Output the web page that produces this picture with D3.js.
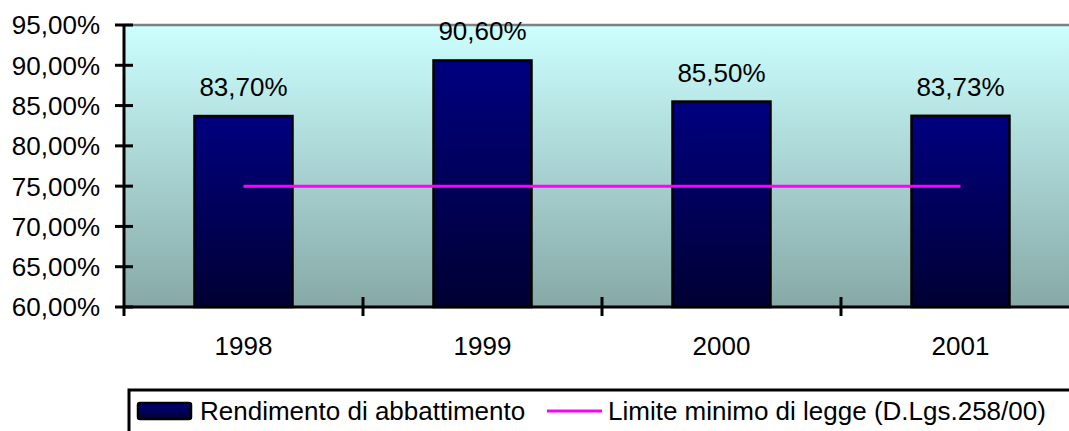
<!DOCTYPE html>
<html>
<head>
<meta charset="utf-8">
<script src="https://cdn.jsdelivr.net/npm/d3@7"></script>
<style>
  html, body { margin: 0; padding: 0; background: #fff; }
  svg text { font-family: "Liberation Sans", Arial, sans-serif; fill: #000; }
</style>
</head>
<body>
<div id="chart"></div>
<script>
// Chart data
const years = ['1998', '1999', '2000', '2001'];
const rendimento = [0.8370, 0.9060, 0.8550, 0.8373];
const limite = [0.75, 0.75, 0.75, 0.75];
const yTicks = [0.60, 0.65, 0.70, 0.75, 0.80, 0.85, 0.90, 0.95];
const legendLabels = ['Rendimento di abbattimento', 'Limite minimo di legge (D.Lgs.258/00)'];

const width = 1069, height = 431;
const plot = { left: 124, right: 1080, top: 25, bottom: 307 };
const fontSize = 26;

const it = d3.formatLocale({ decimal: ',', thousands: '.', grouping: [3], currency: ['€', ''] });
const pct = it.format('.2%');

const svg = d3.select('#chart')
    .append('svg')
    .attr('width', width)
    .attr('height', height);

const defs = svg.append('defs');

const bgGrad = defs.append('linearGradient')
    .attr('id', 'bgGrad')
    .attr('x1', 0).attr('y1', 0).attr('x2', 0).attr('y2', 1);
bgGrad.append('stop').attr('offset', '0%').attr('stop-color', '#ccffff');
bgGrad.append('stop').attr('offset', '100%').attr('stop-color', '#86a9a7');

const barGrad = defs.append('linearGradient')
    .attr('id', 'barGrad')
    .attr('x1', 0).attr('y1', 0).attr('x2', 0).attr('y2', 1);
barGrad.append('stop').attr('offset', '0%').attr('stop-color', '#000080');
barGrad.append('stop').attr('offset', '100%').attr('stop-color', '#000033');

// Scales
const x = d3.scaleBand()
    .domain(years)
    .range([plot.left, plot.right])
    .padding(0);

const y = d3.scaleLinear()
    .domain([0.60, 0.95])
    .range([plot.bottom, plot.top]);

const barW = x.bandwidth() * 0.41;

// Plot background
svg.append('rect')
    .attr('x', plot.left)
    .attr('y', plot.top)
    .attr('width', plot.right - plot.left)
    .attr('height', plot.bottom - plot.top)
    .attr('fill', 'url(#bgGrad)');

// Top border (gray)
svg.append('line')
    .attr('x1', plot.left).attr('x2', plot.right)
    .attr('y1', plot.top).attr('y2', plot.top)
    .attr('stroke', '#808080')
    .attr('stroke-width', 2.5);

// Bars
svg.append('g')
    .selectAll('rect')
    .data(rendimento)
    .enter()
    .append('rect')
    .attr('x', (d, i) => x(years[i]) + (x.bandwidth() - barW) / 2)
    .attr('y', d => y(d))
    .attr('width', barW)
    .attr('height', d => y(0.60) - y(d))
    .attr('fill', 'url(#barGrad)')
    .attr('stroke', '#000')
    .attr('stroke-width', 2.5);

// Value labels
svg.append('g')
    .selectAll('text')
    .data(rendimento)
    .enter()
    .append('text')
    .attr('x', (d, i) => x(years[i]) + x.bandwidth() / 2)
    .attr('y', d => y(d) - 20)
    .attr('text-anchor', 'middle')
    .attr('font-size', fontSize + 'px')
    .text(d => pct(d));

// Limit line
const line = d3.line()
    .x((d, i) => x(years[i]) + x.bandwidth() / 2)
    .y(d => y(d));

svg.append('path')
    .datum(limite)
    .attr('d', line)
    .attr('fill', 'none')
    .attr('stroke', '#ff00ff')
    .attr('stroke-width', 3);

// Y axis
const yAxis = svg.append('g');
yAxis.append('line')
    .attr('x1', plot.left).attr('x2', plot.left)
    .attr('y1', plot.top).attr('y2', plot.bottom + 9)
    .attr('stroke', '#000')
    .attr('stroke-width', 3);

yAxis.selectAll('.ytick')
    .data(yTicks)
    .enter()
    .append('line')
    .attr('x1', plot.left - 9).attr('x2', plot.left + 9)
    .attr('y1', d => y(d)).attr('y2', d => y(d))
    .attr('stroke', '#000')
    .attr('stroke-width', 3);

yAxis.selectAll('.ylabel')
    .data(yTicks)
    .enter()
    .append('text')
    .attr('x', plot.left - 24)
    .attr('y', d => y(d))
    .attr('dy', '0.36em')
    .attr('text-anchor', 'end')
    .attr('font-size', fontSize + 'px')
    .text(d => pct(d));

// X axis
const xAxis = svg.append('g');
xAxis.append('line')
    .attr('x1', plot.left).attr('x2', plot.right)
    .attr('y1', plot.bottom).attr('y2', plot.bottom)
    .attr('stroke', '#000')
    .attr('stroke-width', 3);

xAxis.selectAll('.xtick')
    .data(years.slice(1))
    .enter()
    .append('line')
    .attr('x1', d => x(d)).attr('x2', d => x(d))
    .attr('y1', plot.bottom - 10).attr('y2', plot.bottom + 9)
    .attr('stroke', '#000')
    .attr('stroke-width', 3);

xAxis.selectAll('.xlabel')
    .data(years)
    .enter()
    .append('text')
    .attr('x', d => x(d) + x.bandwidth() / 2)
    .attr('y', 355)
    .attr('text-anchor', 'middle')
    .attr('font-size', fontSize + 'px')
    .text(d => d);

// Legend
const legend = svg.append('g');
legend.append('rect')
    .attr('x', 129).attr('y', 390)
    .attr('width', 1000).attr('height', 100)
    .attr('fill', '#fff')
    .attr('stroke', '#000')
    .attr('stroke-width', 3);

legend.append('rect')
    .attr('x', 138).attr('y', 403)
    .attr('width', 53).attr('height', 16)
    .attr('rx', 2)
    .attr('fill', 'url(#barGrad)')
    .attr('stroke', '#000')
    .attr('stroke-width', 2.5);

legend.append('text')
    .attr('x', 200).attr('y', 411)
    .attr('dy', '0.36em')
    .attr('font-size', fontSize + 'px')
    .text(legendLabels[0]);

legend.append('line')
    .attr('x1', 547).attr('x2', 602)
    .attr('y1', 411).attr('y2', 411)
    .attr('stroke', '#ff00ff')
    .attr('stroke-width', 3);

legend.append('text')
    .attr('x', 608).attr('y', 411)
    .attr('dy', '0.36em')
    .attr('font-size', fontSize + 'px')
    .text(legendLabels[1]);
</script>
</body>
</html>
